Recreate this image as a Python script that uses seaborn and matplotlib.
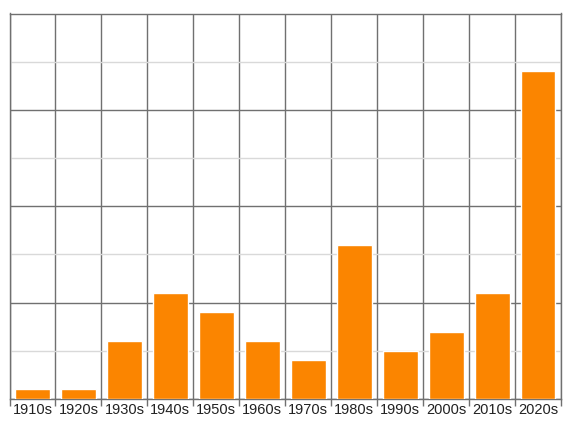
import numpy as np
import pandas as pd
import matplotlib
matplotlib.use("Agg")
import matplotlib.pyplot as plt
import seaborn as sns

decades = ["1910s", "1920s", "1930s", "1940s", "1950s", "1960s",
           "1970s", "1980s", "1990s", "2000s", "2010s", "2020s"]
counts = [1, 1, 6, 11, 9, 6, 4, 16, 5, 7, 11, 34]

df = pd.DataFrame({"decade": decades, "count": counts})

sns.set_style("white")
plt.rcParams["font.family"] = ["Liberation Sans", "DejaVu Sans"]

fig = plt.figure(figsize=(5.71, 4.29), dpi=100)
ax = fig.add_axes([9.5 / 571, 1 - 399 / 429, (561 - 9.5) / 571, (399 - 13.5) / 429])

sns.barplot(data=df, x="decade", y="count", color="#fb8500", saturation=1,
            width=0.76, ax=ax, zorder=3)

n = len(decades)
ax.set_xlim(-0.5, n - 0.5)
ax.set_ylim(0, 40)

# grid: boundaries between categories, majors every 10, minors every 5
ax.set_xticks(np.arange(-0.5, n, 1.0))
ax.set_xticklabels([])
ax.set_xticks(np.arange(n), minor=True)
ax.set_xticklabels(decades, minor=True, fontsize=10.5)
ax.tick_params(axis="x", which="major", length=5, width=1, color="#707070", bottom=True)
ax.tick_params(axis="x", which="minor", length=0, pad=3, labelcolor="#222222")

ax.set_yticks([0, 10, 20, 30, 40])
ax.set_yticks([5, 15, 25, 35], minor=True)
ax.set_yticklabels([])
ax.tick_params(axis="y", which="both", length=0)

ax.grid(True, which="major", axis="both", color="#707070", linewidth=1, zorder=0)
ax.grid(True, which="minor", axis="y", color="#d9d9d9", linewidth=1, zorder=0)
ax.set_axisbelow(True)

for s in ax.spines.values():
    s.set_color("#707070")
    s.set_linewidth(1)

ax.set_xlabel("")
ax.set_ylabel("")

fig.savefig("out.png", dpi=100, facecolor="white")
